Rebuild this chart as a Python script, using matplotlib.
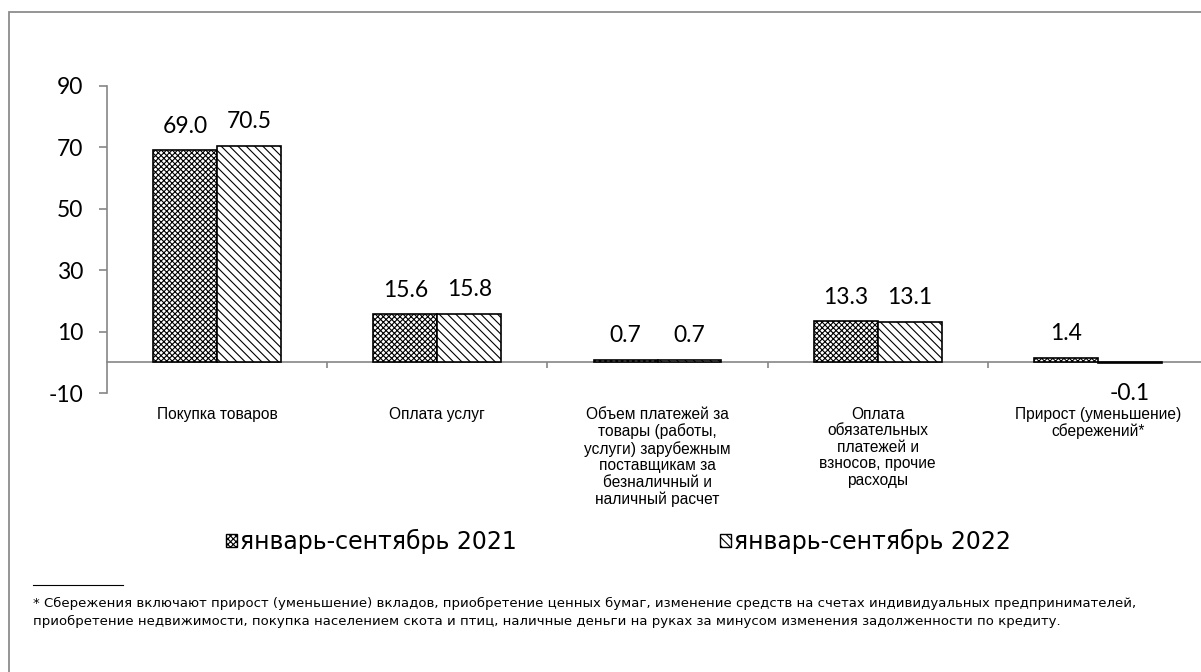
import matplotlib
matplotlib.use("Agg")
import matplotlib.pyplot as plt
import matplotlib.patches as mpatches
import numpy as np

plt.rcParams['axes.unicode_minus'] = False
plt.rcParams['hatch.linewidth'] = 0.8

categories = [
    "Покупка товаров",
    "Оплата услуг",
    "Объем платежей за\nтовары (работы,\nуслуги) зарубежным\nпоставщикам за\nбезналичный и\nналичный расчет",
    "Оплата\nобязательных\nплатежей и\nвзносов, прочие\nрасходы",
    "Прирост (уменьшение)\nсбережений*",
]
series_names = ["январь-сентябрь 2021", "январь-сентябрь 2022"]
v2021 = [69.0, 15.6, 0.7, 13.3, 1.4]
v2022 = [70.5, 15.8, 0.7, 13.1, -0.1]
yticks = [-10, 10, 30, 50, 70, 90]
footnote = ("* Сбережения включают прирост (уменьшение) вкладов, приобретение ценных бумаг, изменение средств на счетах индивидуальных предпринимателей,\n"
            "приобретение недвижимости, покупка населением скота и птиц, наличные деньги на руках за минусом изменения задолженности по кредиту.")

AX = "#868686"
num_font = "Lato"
W, H = 1201, 672

fig = plt.figure(figsize=(W/100, H/100), dpi=100)
ax = fig.add_axes([107/W, 1-393/H, (1208-107)/W, (393-86)/H])

x = np.arange(len(categories))
w = 0.29
b1 = ax.bar(x - w/2, v2021, w, facecolor="white", edgecolor="black", hatch="xxxxxx", linewidth=1.2)
b2 = ax.bar(x + w/2, v2022, w, facecolor="white", edgecolor="black", hatch="\\\\\\\\", linewidth=1.2)

for bars, vals in ((b1, v2021), (b2, v2022)):
    for rect, v in zip(bars, vals):
        cx = rect.get_x() + rect.get_width()/2
        if v >= 0:
            ax.annotate(f"{v:.1f}", (cx, v), xytext=(0, 10), textcoords="offset points",
                        ha="center", va="bottom", fontsize=16.5, family=num_font)
        else:
            ax.annotate(f"{v:.1f}", (cx, v), xytext=(0, -15), textcoords="offset points",
                        ha="center", va="top", fontsize=16.5, family=num_font)

ax.set_xlim(-0.5, len(categories) - 0.5)
ax.set_ylim(-10, 90)
ax.set_yticks(yticks)
ax.tick_params(axis="y", direction="out", length=6, color=AX, width=1.2, labelsize=16.5, pad=11)
for lab in ax.get_yticklabels():
    lab.set_family(num_font)

ax.set_xticks(x)
ax.set_xticklabels(categories, fontsize=11.2, family="Liberation Sans", linespacing=1.12, va="top")
ax.tick_params(axis="x", length=0, pad=10)

for s in ("top", "right", "bottom"):
    ax.spines[s].set_visible(False)
ax.spines["left"].set_color(AX)
ax.spines["left"].set_linewidth(1.2)
ax.axhline(0, color=AX, linewidth=1.2, zorder=0.5, clip_on=False)
bounds = np.arange(len(categories) - 1) + 0.5
ax.vlines(bounds, -1.8, 0, color=AX, linewidth=1.2)

handles = [mpatches.Patch(facecolor="white", edgecolor="black", hatch="xxxxxx", label=series_names[0]),
           mpatches.Patch(facecolor="white", edgecolor="black", hatch="\\\\\\\\", label=series_names[1])]
fig.legend(handles=handles, loc="center left", bbox_to_anchor=(226/W, 1-541/H), ncol=2, frameon=False,
           prop={"family": "DejaVu Sans", "size": 17}, handlelength=0.47, handleheight=0.47,
           handletextpad=0.12, columnspacing=8.6, borderpad=0, borderaxespad=0)

fig.add_artist(plt.Line2D([33/W, 123/W], [1-585/H, 1-585/H], color="black", linewidth=0.8))
fig.text(33/W, 1-597/H, footnote, ha="left", va="top", fontsize=9.5, family="DejaVu Sans",
         linespacing=1.45)

fig.add_artist(mpatches.Rectangle((9/W, -10/H), (1250-9)/W, (H+10-12)/H, transform=fig.transFigure,
                                  fill=False, edgecolor="#8c8c8c", linewidth=1.3, clip_on=False))

fig.savefig("out.png", dpi=100)
